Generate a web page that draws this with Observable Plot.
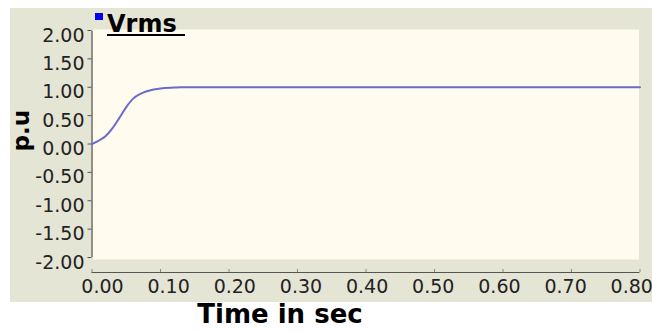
<!DOCTYPE html>
<html><head><meta charset="utf-8">
<script src="https://cdn.jsdelivr.net/npm/d3@7"></script>
<script src="https://cdn.jsdelivr.net/npm/@observablehq/plot@0.6"></script>
<style>
body{margin:0;background:#fff;font-family:"DejaVu Sans",sans-serif}
#wrap{position:relative;width:652px;height:331px;overflow:hidden}
#panel{position:absolute;left:10px;top:8px;width:642px;height:294px;background:#E5E5D5}
#chart{position:absolute;left:0;top:0}
#swatch{position:absolute;left:95px;top:13px;width:8px;height:7px;background:#0000EE}
#legtext{position:absolute;left:107px;top:12px;font:bold 24px/24px "DejaVu Sans";color:#000;white-space:nowrap}
#legline{position:absolute;left:107px;top:34px;width:78px;height:2px;background:#000}
#xlabel{position:absolute;left:180px;top:301px;width:200px;text-align:center;font:bold 26px/26px "DejaVu Sans";color:#000}
</style></head>
<body>
<div id="wrap">
  <div id="panel"></div>
  <div id="chart"></div>
  <div id="swatch"></div>
  <div id="legtext">Vrms</div>
  <div id="legline"></div>
  <div id="xlabel">Time in sec</div>
</div>
<script>
// Data
const times = [0, 0.01, 0.02, 0.03, 0.04, 0.05, 0.06, 0.07, 0.08, 0.09, 0.10, 0.12, 0.13, 0.80];
const vrms  = [0.00, 0.06, 0.14, 0.28, 0.46, 0.65, 0.80, 0.88, 0.93, 0.96, 0.98, 0.995, 1.00, 1.00];
const xTicks = [0, 0.1, 0.2, 0.3, 0.4, 0.5, 0.6, 0.7, 0.8];
const xTickLabels = ["0.00","0.10","0.20","0.30","0.40","0.50","0.60","0.70","0.80"];
const yTicks = [2, 1.5, 1, 0.5, 0, -0.5, -1, -1.5, -2];
const yTickLabels = ["2.00","1.50","1.00","0.50","0.00","-0.50","-1.00","-1.50","-2.00"];
const seriesName = "Vrms";
const yTitle = "p.u";

const data = times.map((t, i) => ({t, v: vrms[i]}));

// label placement quirk of the original: tick labels spread slightly narrower than ticks
const labelShift = 0.0153, labelScale = 0.9658;

const chart = Plot.plot({
  width: 652, height: 302,
  marginLeft: 91.5, marginRight: 12.5, marginTop: 30, marginBottom: 30,
  x: {domain: [0, 0.8]},
  y: {domain: [-2, 2], insetBottom: 15},
  style: {background: "transparent", fontFamily: "DejaVu Sans", fontSize: "19px", color: "#222", overflow: "visible"},
  marks: [
    Plot.frame({fill: "#FFFBEF", stroke: "none", insetTop: -1, insetBottom: 13, insetLeft: 1, insetRight: 1}),
    Plot.ruleX([0], {y1: -2, y2: 2, stroke: "#555", strokeWidth: 1.2, insetBottom: -1}),
    Plot.ruleY([-2], {x1: 0, x2: 0.8, dy: 15, stroke: "#555", strokeWidth: 1.2}),
    Plot.axisY({ticks: yTicks, tickSize: 4, tickFormat: () => "", stroke: "#555", label: null}),
    Plot.axisY({ticks: yTicks, tickSize: 0, tickPadding: 7.5, dy: 5, fontSize: 19, label: null,
      tickFormat: d => yTickLabels[yTicks.indexOf(d)]}),
    Plot.axisX({ticks: xTicks, tickSize: -3, tickFormat: () => "", stroke: "#888", label: null}),
    Plot.text(xTicks, {x: d => labelShift + d * labelScale, frameAnchor: "bottom", lineAnchor: "top",
      dy: 6.5, fontSize: 19, fill: "#222", text: (d, i) => xTickLabels[i]}),
    Plot.text([yTitle], {frameAnchor: "left", rotate: -90, dx: -70.5, fontSize: 23, fontWeight: "bold",
      fill: "#000", lineAnchor: "middle", text: d => d}),
    Plot.line(data, {x: "t", y: "v", stroke: "#6B6BCB", strokeWidth: 2, curve: "monotone-x"})
  ]
});
document.getElementById("chart").appendChild(chart);
document.getElementById("legtext").textContent = seriesName;
</script>
</body></html>
